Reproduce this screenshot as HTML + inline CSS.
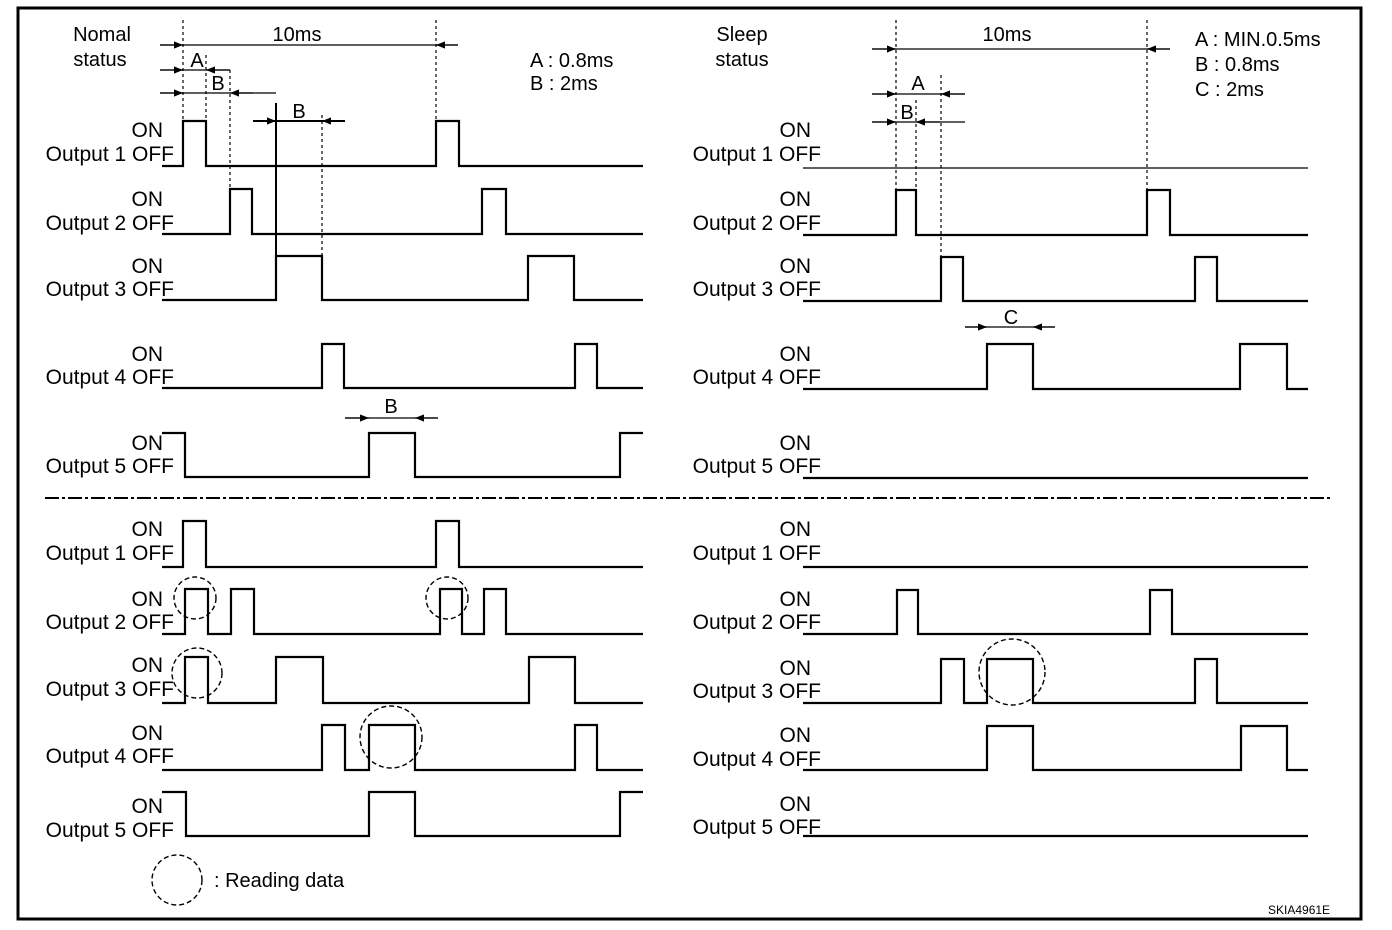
<!DOCTYPE html>
<html><head><meta charset="utf-8"><style>
html,body{margin:0;padding:0;background:#fff;}
svg{display:block;font-family:"Liberation Sans",Arial,sans-serif;}
text{font-size:20px;fill:#000;}
text.o{font-size:21px;}
.w{fill:none;stroke:#000;stroke-width:2.2;}
.t{fill:none;stroke:#000;stroke-width:1.3;}
.d{fill:none;stroke:#000;stroke-width:1.2;stroke-dasharray:3,3;}
.c{fill:none;stroke:#000;stroke-width:1.4;stroke-dasharray:5,3;}
</style></head><body>
<svg width="1392" height="930" viewBox="0 0 1392 930">
<defs>
<marker id="ar" viewBox="0 0 10 10" refX="10" refY="5" markerWidth="9" markerHeight="9" markerUnits="userSpaceOnUse" orient="auto"><path d="M0,1 L10,5 L0,9 z" fill="#000"/></marker>
</defs>
<rect x="18" y="8" width="1343" height="911" fill="none" stroke="#000" stroke-width="3"/>

<!-- LEFT TOP annotations -->
<text x="102" y="41" text-anchor="middle">Nomal</text>
<text x="100" y="66" text-anchor="middle">status</text>
<text x="297" y="41" text-anchor="middle">10ms</text>
<text x="530" y="67">A : 0.8ms</text>
<text x="530" y="90">B : 2ms</text>
<line class="d" x1="183" y1="20" x2="183" y2="121"/>
<line class="d" x1="206" y1="55" x2="206" y2="121"/>
<line class="d" x1="230" y1="70" x2="230" y2="189"/>
<line class="d" x1="436" y1="20" x2="436" y2="121"/>
<line class="d" x1="322" y1="115" x2="322" y2="256"/>
<line class="t" x1="276" y1="103" x2="276" y2="256" style="stroke-width:2"/>
<line class="t" x1="160" y1="45" x2="458" y2="45"/>
<line class="t" x1="160" y1="45" x2="183" y2="45" marker-end="url(#ar)"/>
<line class="t" x1="458" y1="45" x2="436" y2="45" marker-end="url(#ar)"/>
<line class="t" x1="160" y1="70" x2="230" y2="70"/>
<line class="t" x1="160" y1="70" x2="183" y2="70" marker-end="url(#ar)"/>
<line class="t" x1="230" y1="70" x2="206" y2="70" marker-end="url(#ar)"/>
<text x="197" y="67" text-anchor="middle">A</text>
<line class="t" x1="160" y1="93" x2="276" y2="93"/>
<line class="t" x1="160" y1="93" x2="183" y2="93" marker-end="url(#ar)"/>
<line class="t" x1="253" y1="93" x2="230" y2="93" marker-end="url(#ar)"/>
<text x="218" y="90" text-anchor="middle">B</text>
<line class="t" x1="253" y1="121" x2="345" y2="121" style="stroke-width:2"/>
<line class="t" x1="253" y1="121" x2="276" y2="121" marker-end="url(#ar)"/>
<line class="t" x1="345" y1="121" x2="322" y2="121" marker-end="url(#ar)"/>
<text x="299" y="118" text-anchor="middle">B</text>
<line class="t" x1="345" y1="418" x2="438" y2="418"/>
<line class="t" x1="345" y1="418" x2="369" y2="418" marker-end="url(#ar)"/>
<line class="t" x1="438" y1="418" x2="415" y2="418" marker-end="url(#ar)"/>
<text x="391" y="413" text-anchor="middle">B</text>

<!-- LEFT labels -->
<g text-anchor="end">
<text class="o" x="163" y="137">ON</text><text class="o" x="174" y="161">Output 1 OFF</text>
<text class="o" x="163" y="206">ON</text><text class="o" x="174" y="230">Output 2 OFF</text>
<text class="o" x="163" y="273">ON</text><text class="o" x="174" y="296">Output 3 OFF</text>
<text class="o" x="163" y="361">ON</text><text class="o" x="174" y="384">Output 4 OFF</text>
<text class="o" x="163" y="450">ON</text><text class="o" x="174" y="473">Output 5 OFF</text>
<text class="o" x="163" y="536">ON</text><text class="o" x="174" y="560">Output 1 OFF</text>
<text class="o" x="163" y="606">ON</text><text class="o" x="174" y="629">Output 2 OFF</text>
<text class="o" x="163" y="672">ON</text><text class="o" x="174" y="696">Output 3 OFF</text>
<text class="o" x="163" y="740">ON</text><text class="o" x="174" y="763">Output 4 OFF</text>
<text class="o" x="163" y="813">ON</text><text class="o" x="174" y="837">Output 5 OFF</text>
</g>
<!-- RIGHT labels -->
<g text-anchor="end">
<text class="o" x="811" y="137">ON</text><text class="o" x="821" y="161">Output 1 OFF</text>
<text class="o" x="811" y="206">ON</text><text class="o" x="821" y="230">Output 2 OFF</text>
<text class="o" x="811" y="273">ON</text><text class="o" x="821" y="296">Output 3 OFF</text>
<text class="o" x="811" y="361">ON</text><text class="o" x="821" y="384">Output 4 OFF</text>
<text class="o" x="811" y="450">ON</text><text class="o" x="821" y="473">Output 5 OFF</text>
<text class="o" x="811" y="536">ON</text><text class="o" x="821" y="560">Output 1 OFF</text>
<text class="o" x="811" y="606">ON</text><text class="o" x="821" y="629">Output 2 OFF</text>
<text class="o" x="811" y="675">ON</text><text class="o" x="821" y="698">Output 3 OFF</text>
<text class="o" x="811" y="742">ON</text><text class="o" x="821" y="766">Output 4 OFF</text>
<text class="o" x="811" y="811">ON</text><text class="o" x="821" y="834">Output 5 OFF</text>
</g>

<!-- LEFT TOP waves -->
<polyline class="w" points="162,166 183,166 183,121 206,121 206,166 436,166 436,121 459,121 459,166 643,166"/>
<polyline class="w" points="162,234 230,234 230,189 252,189 252,234 482,234 482,189 506,189 506,234 643,234"/>
<polyline class="w" points="162,300 276,300 276,256 322,256 322,300 528,300 528,256 574,256 574,300 643,300"/>
<polyline class="w" points="162,388 322,388 322,344 344,344 344,388 575,388 575,344 597,344 597,388 643,388"/>
<polyline class="w" points="162,433 185,433 185,477 369,477 369,433 415,433 415,477 620,477 620,433 643,433"/>

<!-- RIGHT TOP annotations -->
<text x="742" y="41" text-anchor="middle">Sleep</text>
<text x="742" y="66" text-anchor="middle">status</text>
<text x="1007" y="41" text-anchor="middle">10ms</text>
<text x="1195" y="46">A : MIN.0.5ms</text>
<text x="1195" y="71">B : 0.8ms</text>
<text x="1195" y="96">C : 2ms</text>
<line class="d" x1="896" y1="20" x2="896" y2="190"/>
<line class="d" x1="916" y1="100" x2="916" y2="190"/>
<line class="d" x1="941" y1="75" x2="941" y2="257"/>
<line class="d" x1="1147" y1="20" x2="1147" y2="190"/>
<line class="t" x1="872" y1="49" x2="1170" y2="49"/>
<line class="t" x1="872" y1="49" x2="896" y2="49" marker-end="url(#ar)"/>
<line class="t" x1="1170" y1="49" x2="1147" y2="49" marker-end="url(#ar)"/>
<line class="t" x1="872" y1="94" x2="965" y2="94"/>
<line class="t" x1="872" y1="94" x2="896" y2="94" marker-end="url(#ar)"/>
<line class="t" x1="965" y1="94" x2="941" y2="94" marker-end="url(#ar)"/>
<text x="918" y="90" text-anchor="middle">A</text>
<line class="t" x1="872" y1="122" x2="965" y2="122"/>
<line class="t" x1="872" y1="122" x2="896" y2="122" marker-end="url(#ar)"/>
<line class="t" x1="940" y1="122" x2="916" y2="122" marker-end="url(#ar)"/>
<text x="907" y="119" text-anchor="middle">B</text>
<line class="t" x1="965" y1="327" x2="1055" y2="327"/>
<line class="t" x1="965" y1="327" x2="987" y2="327" marker-end="url(#ar)"/>
<line class="t" x1="1055" y1="327" x2="1033" y2="327" marker-end="url(#ar)"/>
<text x="1011" y="324" text-anchor="middle">C</text>

<!-- RIGHT TOP waves -->
<line class="t" x1="803" y1="168" x2="1308" y2="168"/>
<polyline class="w" points="803,235 896,235 896,190 916,190 916,235 1147,235 1147,190 1170,190 1170,235 1308,235"/>
<polyline class="w" points="803,301 941,301 941,257 963,257 963,301 1195,301 1195,257 1217,257 1217,301 1308,301"/>
<polyline class="w" points="803,389 987,389 987,344 1033,344 1033,389 1240,389 1240,344 1287,344 1287,389 1308,389"/>
<line class="w" x1="803" y1="478" x2="1308" y2="478"/>

<!-- separator -->
<line x1="45" y1="498" x2="1333" y2="498" stroke="#000" stroke-width="2" stroke-dasharray="14,3,3,3"/>

<!-- LEFT BOTTOM waves -->
<polyline class="w" points="162,567 183,567 183,521 206,521 206,567 436,567 436,521 459,521 459,567 643,567"/>
<polyline class="w" points="162,634 185,634 185,589 208,589 208,634 231,634 231,589 254,589 254,634 440,634 440,589 462,589 462,634 484,634 484,589 506,589 506,634 643,634"/>
<polyline class="w" points="162,703 185,703 185,657 208,657 208,703 276,703 276,657 323,657 323,703 529,703 529,657 575,657 575,703 643,703"/>
<polyline class="w" points="162,770 322,770 322,725 345,725 345,770 369,770 369,725 415,725 415,770 575,770 575,725 597,725 597,770 643,770"/>
<polyline class="w" points="162,792 186,792 186,836 369,836 369,792 415,792 415,836 620,836 620,792 643,792"/>
<circle class="c" cx="195" cy="598" r="21"/>
<circle class="c" cx="447" cy="598" r="21"/>
<circle class="c" cx="197" cy="673" r="25"/>
<circle class="c" cx="391" cy="737" r="31"/>

<!-- RIGHT BOTTOM waves -->
<line class="w" x1="803" y1="567" x2="1308" y2="567"/>
<polyline class="w" points="803,634 897,634 897,590 918,590 918,634 1150,634 1150,590 1172,590 1172,634 1308,634"/>
<polyline class="w" points="803,703 941,703 941,659 964,659 964,703 987,703 987,659 1033,659 1033,703 1195,703 1195,659 1217,659 1217,703 1308,703"/>
<polyline class="w" points="803,770 987,770 987,726 1033,726 1033,770 1241,770 1241,726 1287,726 1287,770 1308,770"/>
<line class="w" x1="803" y1="836" x2="1308" y2="836"/>
<circle class="c" cx="1012" cy="672" r="33"/>

<!-- legend -->
<circle class="c" cx="177" cy="880" r="25"/>
<text x="214" y="887">: Reading data</text>
<text x="1268" y="914" style="font-size:12px">SKIA4961E</text>
</svg>
</body></html>
